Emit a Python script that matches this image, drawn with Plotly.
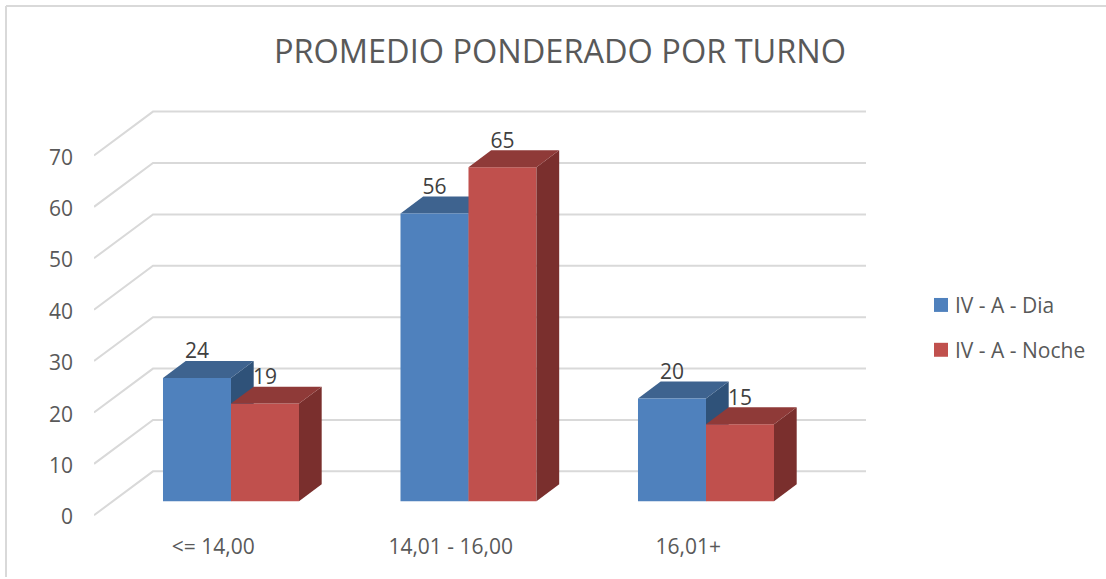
import plotly.graph_objects as go

categories = ["<= 14,00", "14,01 - 16,00", "16,01+"]
series_names = ["IV - A - Dia", "IV - A - Noche"]
dia = [24, 56, 20]
noche = [19, 65, 15]
y_ticks = [0, 10, 20, 30, 40, 50, 60, 70]

W, H = 1106, 579
FONT = "Open Sans"
BLUE = "#4F81BD"
RED = "#C0504D"

# fake 3D: everything lives on one front plane, offsets are in axis units
PX_X = 237.5
PX_Y = 5.157
BAR_W = 68 / PX_X
BASE = 14 / PX_Y
DEPTH_X = 22.7 / PX_X
DEPTH_Y = 17 / PX_Y
WALL_X = 59 / PX_X
WALL_Y = 44 / PX_Y
X_MIN = -0.5768
X_MAX = 2.6737
Y_MIN = -2.52
Y_MAX = 80.86
LABEL_UP = 25 / PX_Y
TICK_NUDGE = 1.8 / PX_Y  # tick text sits a little under the gridline start


def box_faces(x0, value):
    x1 = x0 + BAR_W
    top = BASE + value
    top_x = [x0, x1, x1 + DEPTH_X, x0 + DEPTH_X, x0]
    top_y = [top, top, top + DEPTH_Y, top + DEPTH_Y, top]
    side_x = [x1, x1 + DEPTH_X, x1 + DEPTH_X, x1, x1]
    side_y = [BASE, BASE + DEPTH_Y, top + DEPTH_Y, top, BASE]
    return top_x, top_y, side_x, side_y


def add_faces(fig, values, left, top_color, side_color, xaxis, yaxis):
    for i, v in enumerate(values):
        top_x, top_y, side_x, side_y = box_faces(i + left, v)
        for fx, fy, col in ((side_x, side_y, side_color), (top_x, top_y, top_color)):
            fig.add_trace(go.Scatter(x=fx, y=fy, mode="lines", fill="toself", fillcolor=col,
                                     line=dict(width=0), showlegend=False, hoverinfo="skip",
                                     xaxis=xaxis, yaxis=yaxis))


fig = go.Figure()

# wall gridlines with the slanted side wall
grid_x, grid_y = [], []
for t in y_ticks:
    grid_x += [X_MIN, X_MIN + WALL_X, X_MAX, None]
    grid_y += [t, t + WALL_Y, t + WALL_Y, None]
fig.add_trace(go.Scatter(x=grid_x, y=grid_y, mode="lines", line=dict(color="#D9D9D9", width=2),
                         showlegend=False, hoverinfo="skip", xaxis="x", yaxis="y"))

add_faces(fig, dia, -BAR_W, "#3E638F", "#2F5279", "x", "y")

xs = list(range(len(categories)))
fig.add_trace(go.Bar(x=xs, y=dia, base=BASE, name=series_names[0], marker=dict(color=BLUE, line=dict(width=0)),
                     showlegend=False, hoverinfo="skip", xaxis="x2", yaxis="y2"))
fig.add_trace(go.Bar(x=xs, y=noche, base=BASE, name=series_names[1], marker=dict(color=RED, line=dict(width=0)),
                     showlegend=False, hoverinfo="skip", xaxis="x2", yaxis="y2"))

add_faces(fig, noche, 0, "#8F3A38", "#7A2F2D", "x2", "y2")

# data labels
lab_x = [i - BAR_W / 2 for i in xs] + [i + BAR_W / 2 for i in xs]
lab_vals = dia + noche
fig.add_trace(go.Scatter(x=lab_x, y=[v + BASE + LABEL_UP for v in lab_vals], mode="text",
                         text=[str(v) for v in lab_vals], textposition="middle center",
                         textfont=dict(family=FONT, size=21, color="#404040"),
                         showlegend=False, hoverinfo="skip", xaxis="x2", yaxis="y2"))

x_dom = [94 / W, 866 / W]
y_dom = [1 - 530 / H, 1 - 100 / H]
fig.update_layout(
    width=W, height=H,
    margin=dict(l=0, r=0, t=0, b=0),
    paper_bgcolor="white", plot_bgcolor="rgba(0,0,0,0)",
    barmode="group", bargap=1 - 2 * BAR_W, bargroupgap=0,
    showlegend=False,
    title=dict(text="PROMEDIO PONDERADO POR TURNO", x=560 / W, xanchor="center", xref="paper",
               y=1 - 52 / H, yanchor="middle", yref="paper",
               font=dict(family=FONT, size=32.5, color="#595959")),
    xaxis=dict(domain=x_dom, range=[X_MIN, X_MAX], tickmode="array",
               tickvals=[i - 0.075 for i in xs], ticktext=categories,
               showgrid=False, zeroline=False, showline=False, ticks="", ticklabelstandoff=4,
               tickfont=dict(family=FONT, size=21, color="#595959")),
    yaxis=dict(domain=y_dom, range=[Y_MIN, Y_MAX], tickmode="array",
               tickvals=[t - TICK_NUDGE for t in y_ticks], ticktext=[str(t) for t in y_ticks],
               showgrid=False, zeroline=False, showline=False, ticks="", ticklabelstandoff=20,
               tickfont=dict(family=FONT, size=21, color="#595959")),
    xaxis2=dict(overlaying="x", matches="x", visible=False),
    yaxis2=dict(overlaying="y", matches="y", visible=False),
    shapes=[
        dict(type="line", xref="paper", yref="paper", x0=6 / W, x1=6 / W, y0=0, y1=1 - 6 / H,
             line=dict(color="#D9D9D9", width=2)),
        dict(type="line", xref="paper", yref="paper", x0=6 / W, x1=1, y0=1 - 6 / H, y1=1 - 6 / H,
             line=dict(color="#D9D9D9", width=2)),
    ],
)

# legend drawn by hand, the built-in one leaves too wide a gap after the swatch
for name, col, yc in zip(series_names, (BLUE, RED), (306, 351)):
    fig.add_shape(type="rect", xref="paper", yref="paper", x0=934 / W, x1=948 / W,
                  y0=1 - (yc + 7) / H, y1=1 - (yc - 7) / H, fillcolor=col, line=dict(width=0))
    fig.add_annotation(text=name, xref="paper", yref="paper", x=954 / W, y=1 - yc / H, xanchor="left",
                       yanchor="middle", showarrow=False, xshift=-1,
                       font=dict(family=FONT, size=21, color="#595959"))

# page body has an 8px margin by default
fig.write_html("out.html", config={"displayModeBar": False},
               post_script="document.body.style.margin='0';")
